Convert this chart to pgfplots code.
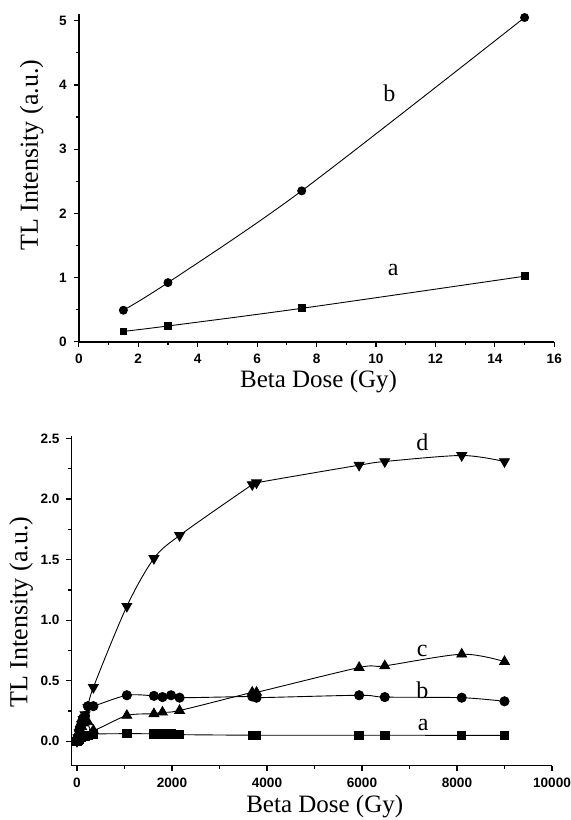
\documentclass[border=0pt]{standalone}
\usepackage{pgfplots}
\pgfplotsset{compat=1.18}
\usepackage{fontspec}
\setmainfont{Liberation Serif}
\setsansfont{Liberation Sans}
\pgfplotstableread{
x y
1.5 0.16
3 0.245
7.5 0.52
15 1.02
}\topa
\pgfplotstableread{
x y
1.5 0.49
3 0.92
7.5 2.35
15 5.05
}\topb
\pgfplotstableread{
x y
0 0.0
20 0.01
45 0.02
70 0.03
100 0.035
130 0.04
170 0.045
230 0.05
345 0.06
1050 0.063
1620 0.062
1800 0.062
1980 0.062
2160 0.055
3690 0.05
3780 0.05
5940 0.05
6480 0.05
8100 0.049
9000 0.049
}\bota
\pgfplotstableread{
x y
0 0.0
20 0.04
45 0.09
70 0.12
100 0.16
130 0.19
170 0.21
230 0.29
345 0.29
1050 0.38
1620 0.375
1800 0.365
1980 0.38
2160 0.36
3690 0.37
3780 0.36
5940 0.38
6480 0.365
8100 0.36
9000 0.33
}\botb
\pgfplotstableread{
x y
0 0.0
20 0.03
45 0.06
70 0.09
100 0.12
130 0.15
170 0.17
230 0.16
345 0.09
1050 0.213
1620 0.227
1800 0.24
2160 0.254
3690 0.404
3780 0.404
5940 0.609
6480 0.623
8100 0.719
9000 0.658
}\botc
\pgfplotstableread{
x y
0 0.0
20 0.03
45 0.07
70 0.10
100 0.14
130 0.18
170 0.22
230 0.28
345 0.445
1050 1.115
1620 1.51
2160 1.70
3690 2.12
3780 2.135
5940 2.28
6480 2.31
8100 2.36
9000 2.31
}\botd
\pgfplotsset{
  mystyle/.style={
    scale only axis,
    axis x line*=bottom,
    axis y line*=left,
    axis line style={-, line width=0.8pt},
    tick align=outside,
    major tick length=2.5pt,
    minor tick length=1.5pt,
    every tick/.style={black, line width=0.6pt},
    ticklabel style={font=\sffamily\bfseries\fontsize{6.8}{8}\selectfont},
    /pgf/number format/assume math mode=true,
    /pgf/number format/1000 sep={},
    label style={font=\fontsize{12.5}{14}\selectfont},
    every axis plot/.append style={black, line width=0.45pt, smooth},
  }
}
\begin{document}
\begin{tikzpicture}
\path[use as bounding box] (0,0) rectangle (285pt,-410pt);
% top
\begin{axis}[mystyle,
  at={(39.4pt,-170.85pt)}, anchor=south west,
  width=237.75pt, height=163.7pt,
  xmin=0, xmax=16, ymin=0, ymax=5.1,
  xtick={0,2,...,16}, minor x tick num=1,
  ytick={0,1,2,3,4,5}, minor y tick num=1,
  xlabel={Beta Dose (Gy)},
  ylabel={TL Intensity (a.u.)},
  xlabel style={at={(axis description cs:0.5,0)}, anchor=center, yshift=-20pt, xshift=1pt},
  ylabel style={at={(axis description cs:-0.099,0.57)}, anchor=center, font=\fontsize{13}{15}\selectfont},
  clip=false]
\addplot[mark=square*, mark size=1.7pt] table {\topa};
\addplot[mark=*, mark size=2pt] table {\topb};
\node[font=\fontsize{12}{14}\selectfont] at (axis cs:10.45,3.87) {b};
\node[font=\fontsize{12}{14}\selectfont] at (axis cs:10.58,1.12) {a};
\end{axis}
% bottom
\begin{axis}[mystyle,
  at={(35.75pt,-382.75pt)}, anchor=south west,
  width=240.25pt, height=164.7pt,
  xmin=-115, xmax=10000, ymin=-0.2, ymax=2.52,
  xtick={0,2000,...,10000}, minor x tick num=1,
  ytick={0,0.5,...,2.5}, minor y tick num=1,
  yticklabel style={/pgf/number format/.cd, fixed, fixed zerofill, precision=1},
  scaled x ticks=false,
  xlabel={Beta Dose (Gy)},
  ylabel={TL Intensity (a.u.)},
  xlabel style={at={(axis description cs:0.5,0)}, anchor=center, yshift=-20.5pt, xshift=6.5pt},
  ylabel style={at={(axis description cs:-0.105,0.466)}, anchor=center, font=\fontsize{13}{15}\selectfont},
  clip=false]
\addplot[mark=square*, mark size=2.1pt] table {\bota};
\addplot[mark=*, mark size=2.3pt] table {\botb};
\addplot[mark=triangle*, mark size=2.8pt] table {\botc};
\addplot[mark=triangle*, mark size=2.8pt, mark options={rotate=180}] table {\botd};
\node[font=\fontsize{12}{14}\selectfont] at (axis cs:7270,2.47) {d};
\node[font=\fontsize{12}{14}\selectfont] at (axis cs:7270,0.746) {c};
\node[font=\fontsize{12}{14}\selectfont] at (axis cs:7270,0.418) {b};
\node[font=\fontsize{12}{14}\selectfont] at (axis cs:7290,0.131) {a};
\end{axis}
\end{tikzpicture}
\end{document}
